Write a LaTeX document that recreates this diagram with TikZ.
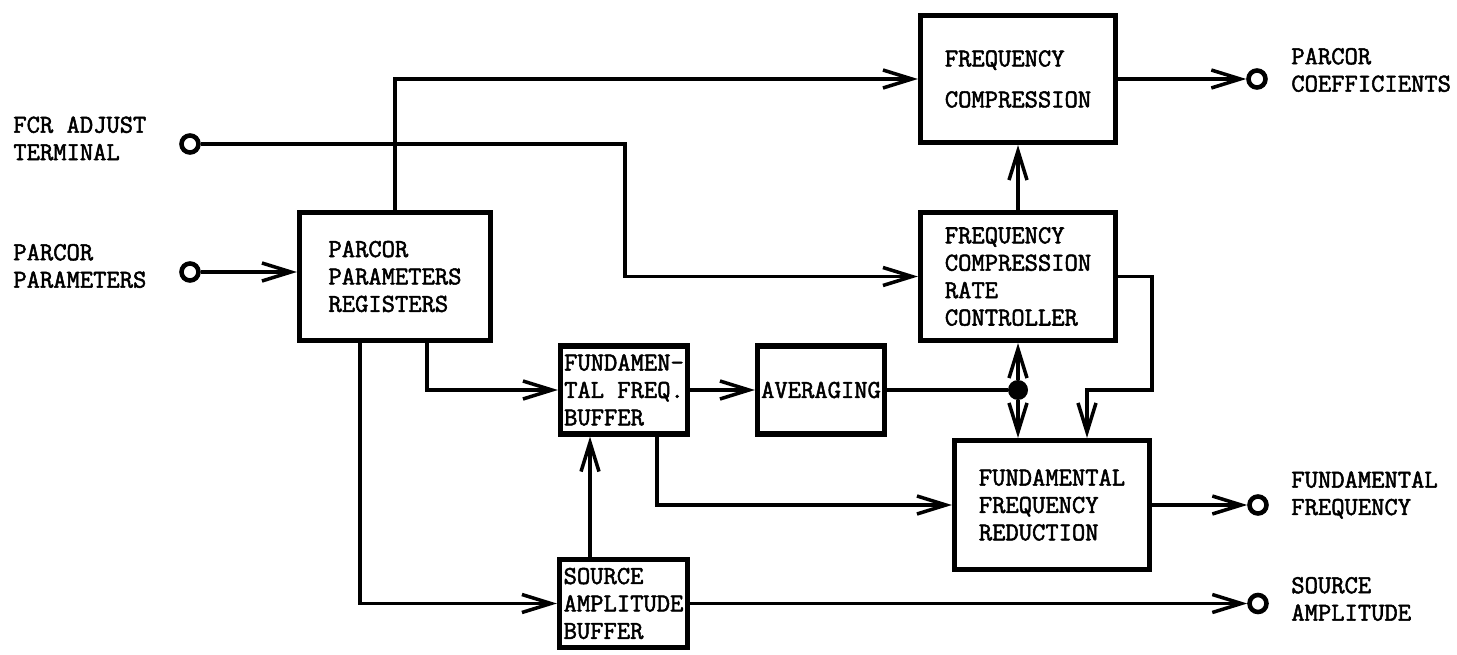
\documentclass[tikz,border=0pt]{standalone}
\usepackage{fontspec}
\newfontfamily\blockfont{Latin Modern Mono}[FakeBold=2]
\usetikzlibrary{arrows.meta, positioning, calc}

\begin{document}
\begin{tikzpicture}[
  x=0.02cm, y=-0.02cm,
  blockbox/.style={draw, line width=3pt, align=left, inner sep=0pt, font=\blockfont\fontsize{14.7}{15.6}\selectfont},
  termtext/.style={anchor=west, align=left, inner sep=0pt, font=\blockfont\fontsize{14.7}{15.6}\selectfont},
  terminal/.style={circle, draw, line width=2.6pt, inner sep=0pt, minimum size=0.34cm},
  junction/.style={circle, fill, inner sep=0pt, minimum size=0.4cm},
  flow/.style={line width=2pt, -{Straight Barb[length=0.58cm, width=0.36cm]}},
  wire/.style={line width=2pt}
]
  \useasboundingbox (0,0) rectangle (1457,655);

  % Blocks
  \node[blockbox, minimum width=3.82cm, minimum height=2.56cm] (ppr) at (395,276.5) {PARCOR\\PARAMETERS\\REGISTERS};
  \node[blockbox, minimum width=2.54cm, minimum height=1.76cm] (ffb) at (624,390) {FUNDAMEN-\\TAL FREQ.\\BUFFER};
  \node[blockbox, minimum width=2.54cm, minimum height=1.76cm] (avg) at (821,390) {AVERAGING};
  \node[blockbox, minimum width=2.56cm, minimum height=1.76cm] (sab) at (623.5,603.5) {SOURCE\\AMPLITUDE\\BUFFER};
  \node[blockbox, minimum width=3.9cm, minimum height=2.54cm] (fc) at (1018,79) {FREQUENCY\\[0.27cm]COMPRESSION};
  \node[blockbox, minimum width=3.9cm, minimum height=2.56cm] (fcr) at (1018,276.5) {FREQUENCY\\COMPRESSION\\RATE\\CONTROLLER};
  \node[blockbox, minimum width=3.9cm, minimum height=2.58cm] (ffr) at (1052,505) {FUNDAMENTAL\\FREQUENCY\\REDUCTION};

  % Terminals
  \node[terminal] (adj) at (190,144) {};
  \node[terminal] (pp) at (190,272) {};
  \node[terminal] (coef) at (1257,79) {};
  \node[terminal] (ff) at (1258,505) {};
  \node[terminal] (sa) at (1258,603.5) {};
  \node[termtext] (adjtext) at (13,138.5) {FCR ADJUST\\TERMINAL};
  \node[termtext] (pptext) at (13,266) {PARCOR\\PARAMETERS};
  \node[termtext] (coeftext) at (1291,70) {PARCOR\\COEFFICIENTS};
  \node[termtext] (fftext) at (1291,495) {FUNDAMENTAL\\FREQUENCY};
  \node[termtext] (satext) at (1291,599) {SOURCE\\AMPLITUDE};

  % Junction and bends
  \node[junction] (dot) at (1018,390) {};
  \coordinate (adjbend) at (625,144);
  \coordinate (fbk) at (1152,390);
  \coordinate (fbkdown) at (1087,390);

  % Connectors
  \draw[flow] (pp) -- (pp -| ppr.west);
  \draw[flow] (ppr.north) |- (fc.west);
  \draw[flow] (adj) -- (adjbend) |- (fcr.west);
  \draw[flow] (fc.east) -- (coef.west);
  \draw[flow] (fcr.north) -- (fc.south);
  \draw[flow] (dot) -- (fcr.south);
  \draw[flow] (dot) -- (dot |- ffr.north);
  \draw[wire] (avg.east) -- (dot);
  \draw[flow] (fcr.east) -| (fbk) -- (fbkdown) -- (fbkdown |- ffr.north);
  \draw[flow] ([xshift=0.64cm]ppr.south) |- (ffb.west);
  \draw[flow] ([xshift=-0.7cm]ppr.south) |- (sab.west);
  \draw[flow] ([xshift=-0.67cm]sab.north) -- ([xshift=-0.67cm]sab.north |- ffb.south);
  \draw[flow] (ffb.east) -- (avg.west);
  \draw[flow] ([xshift=0.66cm]ffb.south) |- (ffr.west);
  \draw[flow] (ffr.east) -- (ff.west);
  \draw[flow] (sab.east) -- (sa.west);
\end{tikzpicture}
\end{document}
